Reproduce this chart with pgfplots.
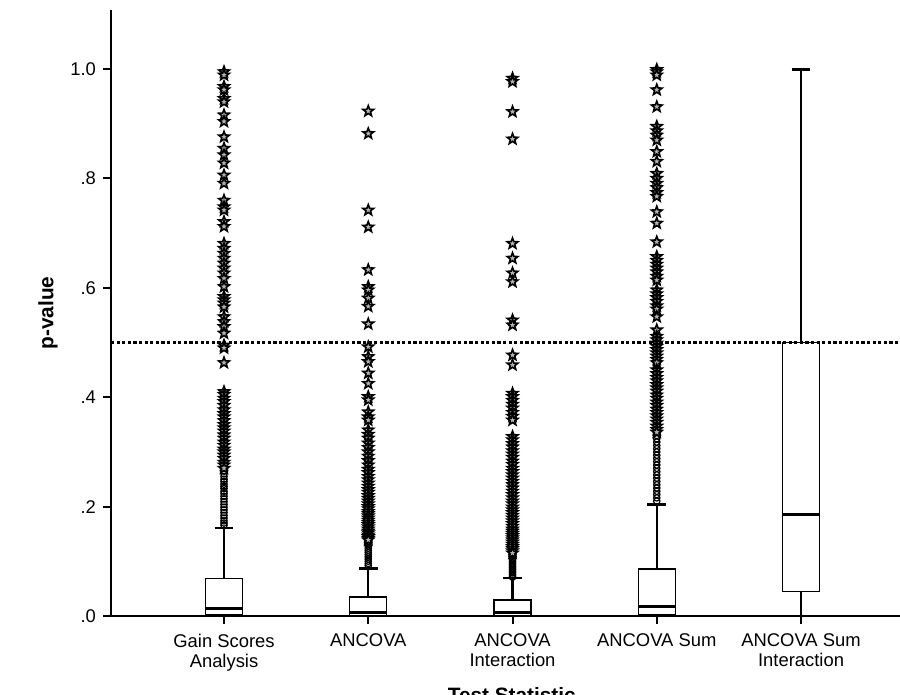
\documentclass[border=0pt]{standalone}
\usepackage{fontspec}
\setmainfont{Liberation Sans}
\usepackage{pgfplots}
\pgfplotsset{compat=1.18}
\usepgfplotslibrary{statistics}

\pgfdeclareplotmark{spssstar}{%
  \pgfpathmoveto{\pgfpointpolar{90}{\pgfplotmarksize}}%
  \pgfpathlineto{\pgfpointpolar{126}{0.42\pgfplotmarksize}}%
  \pgfpathlineto{\pgfpointpolar{162}{\pgfplotmarksize}}%
  \pgfpathlineto{\pgfpointpolar{198}{0.42\pgfplotmarksize}}%
  \pgfpathlineto{\pgfpointpolar{234}{\pgfplotmarksize}}%
  \pgfpathlineto{\pgfpointpolar{270}{0.42\pgfplotmarksize}}%
  \pgfpathlineto{\pgfpointpolar{306}{\pgfplotmarksize}}%
  \pgfpathlineto{\pgfpointpolar{342}{0.42\pgfplotmarksize}}%
  \pgfpathlineto{\pgfpointpolar{18}{\pgfplotmarksize}}%
  \pgfpathlineto{\pgfpointpolar{54}{0.42\pgfplotmarksize}}%
  \pgfpathclose
  \pgfusepathqfillstroke
}

\pgfplotsset{
  spssbox/.style={black,
    boxplot prepared={draw direction=y, box extend=0.256, whisker extend=0.13,
      every box/.style={draw=black, line width=0.65pt, fill=white},
      every whisker/.style={black, line width=1.2pt},
      every median/.style={black, line width=1.6pt}}},
  extreme/.style={black, only marks, mark=spssstar, mark size=2.8pt, mark options={line width=0.8pt, solid, fill=gray!60}},
  outl/.style={black, only marks, mark=o, mark size=1.6pt, mark options={line width=0.6pt, solid}},
}

\begin{document}
\begin{tikzpicture}
\begin{axis}[
  scale only axis, width=394.5pt, height=303pt,
  xmin=0.2166, xmax=5.686, ymin=0, ymax=1.108,
  axis lines=left,
  axis line style={-, line width=1.4pt, black},
  tick align=outside, major tick length=4pt,
  tick style={black, line width=1pt},
  xtick={1,2,3,4,5},
  xticklabels={{Gain Scores\\Analysis},ANCOVA,{ANCOVA\\Interaction},ANCOVA Sum,{ANCOVA Sum\\Interaction}},
  ytick={0,0.2,0.4,0.6,0.8,1.0},
  yticklabels={.0,.2,.4,.6,.8,1.0},
  tick label style={font=\fontsize{9.2}{10}\selectfont},
  xticklabel style={align=center, anchor=north, yshift=-1.5pt},
  xlabel={Test Statistic},
  ylabel={p-value},
  label style={font=\bfseries\fontsize{10.4}{12}\selectfont},
  xlabel style={at={(axis description cs:0.508,0)}, anchor=base, yshift=-43.5pt},
  ylabel style={at={(axis description cs:-0.0798,0.5)}, anchor=center},
  clip=false,
]
% boxes
\addplot[spssbox, boxplot prepared={draw position=1, lower whisker=0, lower quartile=0.002, median=0.013, upper quartile=0.068, upper whisker=0.161}] coordinates {};
\addplot[spssbox, boxplot prepared={draw position=2, lower whisker=0, lower quartile=0.001, median=0.006, upper quartile=0.035, upper whisker=0.087}] coordinates {};
\addplot[spssbox, boxplot prepared={draw position=3, lower whisker=0, lower quartile=0.001, median=0.006, upper quartile=0.029, upper whisker=0.069}] coordinates {};
\addplot[spssbox, boxplot prepared={draw position=4, lower whisker=0, lower quartile=0.003, median=0.017, upper quartile=0.086, upper whisker=0.204}] coordinates {};
\addplot[spssbox, boxplot prepared={draw position=5, lower whisker=0, lower quartile=0.045, median=0.185, upper quartile=0.500, upper whisker=0.999}] coordinates {};

% reference line
\addplot[black, line width=1.1pt, dash pattern=on 1.6pt off 1.2pt] coordinates {(0.2166,0.5) (5.686,0.5)};

% Gain Scores Analysis
\addplot[outl] coordinates {(1,0.265) (1,0.260) (1,0.255) (1,0.250) (1,0.246) (1,0.241) (1,0.237) (1,0.233) (1,0.228) (1,0.224) (1,0.219) (1,0.214) (1,0.209) (1,0.204) (1,0.199) (1,0.194) (1,0.189) (1,0.184) (1,0.179) (1,0.174) (1,0.170) (1,0.166)};
\addplot[extreme] coordinates {(1,0.995) (1,0.989) (1,0.968) (1,0.962) (1,0.946) (1,0.940) (1,0.916) (1,0.904) (1,0.876) (1,0.855) (1,0.843) (1,0.828) (1,0.806) (1,0.791) (1,0.760) (1,0.748) (1,0.742) (1,0.721) (1,0.712) (1,0.681) (1,0.672) (1,0.663) (1,0.654) (1,0.645) (1,0.636) (1,0.627) (1,0.617) (1,0.602) (1,0.584) (1,0.578) (1,0.572) (1,0.565) (1,0.547) (1,0.538) (1,0.529) (1,0.517) (1,0.495) (1,0.490) (1,0.463) (1,0.410) (1,0.405) (1,0.398) (1,0.392) (1,0.385) (1,0.377) (1,0.370) (1,0.364) (1,0.357) (1,0.350) (1,0.344) (1,0.338) (1,0.331) (1,0.325) (1,0.318) (1,0.312) (1,0.305) (1,0.300) (1,0.294) (1,0.288) (1,0.281) (1,0.276) (1,0.270)};

% ANCOVA
\addplot[outl] coordinates {(2,0.136) (2,0.132) (2,0.128) (2,0.124) (2,0.120) (2,0.116) (2,0.112) (2,0.108) (2,0.104) (2,0.100) (2,0.096) (2,0.092)};
\addplot[extreme] coordinates {(2,0.923) (2,0.882) (2,0.742) (2,0.711) (2,0.633) (2,0.602) (2,0.596) (2,0.581) (2,0.566) (2,0.534) (2,0.492) (2,0.474) (2,0.465) (2,0.444) (2,0.425) (2,0.401) (2,0.395) (2,0.373) (2,0.364) (2,0.358) (2,0.340) (2,0.332) (2,0.325) (2,0.316) (2,0.308) (2,0.300) (2,0.292) (2,0.284) (2,0.276) (2,0.268) (2,0.262) (2,0.255) (2,0.249) (2,0.243) (2,0.237) (2,0.231) (2,0.226) (2,0.220) (2,0.215) (2,0.210) (2,0.205) (2,0.200) (2,0.196) (2,0.191) (2,0.187) (2,0.183) (2,0.179) (2,0.175) (2,0.171) (2,0.167) (2,0.163) (2,0.159) (2,0.155) (2,0.152) (2,0.148) (2,0.145) (2,0.142) (2,0.139)};

% ANCOVA Interaction
\addplot[outl] coordinates {(3,0.112) (3,0.109) (3,0.106) (3,0.103) (3,0.100) (3,0.097) (3,0.094) (3,0.091) (3,0.088) (3,0.085) (3,0.082) (3,0.079) (3,0.076) (3,0.073) (3,0.071)};
\addplot[extreme] coordinates {(3,0.983) (3,0.977) (3,0.922) (3,0.872) (3,0.681) (3,0.654) (3,0.627) (3,0.611) (3,0.541) (3,0.532) (3,0.477) (3,0.459) (3,0.407) (3,0.401) (3,0.394) (3,0.387) (3,0.380) (3,0.372) (3,0.365) (3,0.358) (3,0.328) (3,0.322) (3,0.315) (3,0.309) (3,0.302) (3,0.296) (3,0.290) (3,0.283) (3,0.277) (3,0.270) (3,0.264) (3,0.258) (3,0.252) (3,0.246) (3,0.240) (3,0.234) (3,0.228) (3,0.222) (3,0.216) (3,0.210) (3,0.205) (3,0.199) (3,0.194) (3,0.189) (3,0.184) (3,0.179) (3,0.174) (3,0.169) (3,0.164) (3,0.159) (3,0.155) (3,0.151) (3,0.147) (3,0.143) (3,0.139) (3,0.135) (3,0.131) (3,0.127) (3,0.123) (3,0.119) (3,0.115)};

% ANCOVA Sum
\addplot[outl] coordinates {(4,0.330) (4,0.324) (4,0.318) (4,0.312) (4,0.306) (4,0.300) (4,0.294) (4,0.288) (4,0.282) (4,0.276) (4,0.270) (4,0.264) (4,0.258) (4,0.252) (4,0.246) (4,0.240) (4,0.234) (4,0.228) (4,0.222) (4,0.216) (4,0.210)};
\addplot[extreme] coordinates {(4,0.999) (4,0.995) (4,0.989) (4,0.962) (4,0.931) (4,0.895) (4,0.887) (4,0.879) (4,0.870) (4,0.849) (4,0.831) (4,0.809) (4,0.800) (4,0.791) (4,0.783) (4,0.774) (4,0.767) (4,0.739) (4,0.718) (4,0.684) (4,0.657) (4,0.650) (4,0.643) (4,0.636) (4,0.629) (4,0.621) (4,0.614) (4,0.596) (4,0.589) (4,0.582) (4,0.575) (4,0.567) (4,0.561) (4,0.547) (4,0.523) (4,0.511) (4,0.505) (4,0.499) (4,0.493) (4,0.487) (4,0.481) (4,0.475) (4,0.469) (4,0.463) (4,0.450) (4,0.443) (4,0.436) (4,0.430) (4,0.423) (4,0.417) (4,0.411) (4,0.404) (4,0.398) (4,0.391) (4,0.385) (4,0.378) (4,0.372) (4,0.366) (4,0.360) (4,0.354) (4,0.347) (4,0.341) (4,0.336)};
\end{axis}
\pgfresetboundingbox
\path[use as bounding box] (-55.5pt,-39.5pt) rectangle (394.5pt,308pt);
\end{tikzpicture}
\end{document}
